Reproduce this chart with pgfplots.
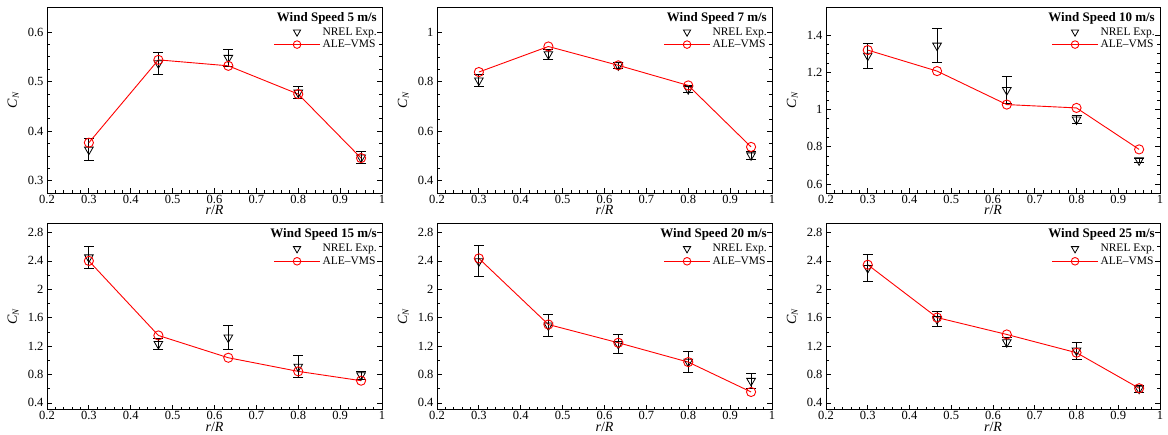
\documentclass[border=0pt]{standalone}
\usepackage{pgfplots}
\pgfplotsset{compat=1.18}
\usepackage{fontspec}
\setmainfont{Liberation Serif}

\pgfplotsset{
  panel/.style={
    width=335pt, height=186pt, scale only axis,
    anchor=south west,
    xmin=0.2, xmax=1,
    xtick={0.2,0.3,0.4,0.5,0.6,0.7,0.8,0.9,1},
    minor x tick num=4,
    xtick pos=bottom, ytick pos=both,
    tick align=inside,
    major tick length=5pt, minor tick length=3pt,
    axis line style={line width=1pt},
    every tick/.style={black, line width=0.8pt},
    /pgf/number format/assume math mode=true,
    tick label style={font=\fontsize{12.5}{14}\selectfont},
    xticklabel style={yshift=2pt},
    every axis x label/.style={at={(axis description cs:0.5,0)}, anchor=base, yshift=-21.5pt},
    every axis y label/.style={at={(axis description cs:-0.101,0.5)}, anchor=center, rotate=90},
    xlabel={\fontsize{14}{16}\selectfont\textit{r}/\textit{R}},
    ylabel={\fontsize{14}{16}\selectfont\textit{C}\raisebox{-0.25ex}{\fontsize{9}{10}\selectfont\textit{N}}},
    legend image code/.code={\draw[mark repeat=2,mark phase=2,#1] plot coordinates {(0pt,0pt) (23pt,0pt) (46pt,0pt)};},
    legend style={draw=none, fill=none, at={(1,1)}, anchor=north east, xshift=0pt, yshift=-16pt,
      font=\fontsize{11.5}{12.5}\selectfont, legend cell align=left, row sep=-0.5pt,
      nodes={inner sep=2pt}},
  },
  nrel/.style={only marks, black, mark=triangle, mark size=5pt, mark options={rotate=180, line width=0.8pt, fill=none},
    error bars/y dir=both, error bars/y explicit,
    error bars/error bar style={line width=0.9pt, black},
    error bars/error mark options={rotate=90, black, mark size=5pt, line width=0.9pt}},
  ale/.style={red, line width=0.9pt, mark=o, mark size=4.6pt, mark options={line width=0.9pt}},
}
\newcommand{\paneltitle}[1]{\node[anchor=north east, inner sep=0pt, font=\fontsize{13}{15}\selectfont\bfseries] at (rel axis cs:0.985,0.975) {#1};}
\newcommand{\legendimgs}{%
  \addlegendimage{only marks, black, mark=triangle, mark size=4.2pt, mark options={rotate=180, line width=0.8pt}}
  \addlegendentry{NREL Exp.}
  \addlegendimage{red, line width=0.9pt, mark=o, mark size=3.8pt, mark options={line width=0.9pt}}
  \addlegendentry{ALE--VMS}}

\begin{document}
\begin{tikzpicture}
\useasboundingbox (0pt,0pt) rectangle (1168pt,-435pt);

% ---- 5 m/s
\begin{axis}[panel, at={(47pt,-193.3pt)}, ymin=0.275, ymax=0.65,
  ytick={0.3,0.4,0.5,0.6}, minor y tick num=3]
\legendimgs
\addplot[forget plot, nrel] table[x=x, y=y, y error=e] {
x y e
0.30 0.363 0.022
0.466 0.537 0.022
0.633 0.548 0.017
0.80 0.478 0.012
0.95 0.347 0.012
};
\addplot[forget plot, ale] table[x=x, y=y] {
x y
0.30 0.377
0.466 0.544
0.633 0.532
0.80 0.475
0.95 0.346
};
\paneltitle{Wind Speed 5 m/s}
\end{axis}

% ---- 7 m/s
\begin{axis}[panel, at={(437pt,-193.3pt)}, ymin=0.35, ymax=1.1,
  ytick={0.4,0.6,0.8,1}, minor y tick num=3]
\legendimgs
\addplot[forget plot, nrel] table[x=x, y=y, y error=e] {
x y e
0.30 0.805 0.023
0.466 0.911 0.020
0.633 0.866 0.012
0.80 0.770 0.015
0.95 0.503 0.015
};
\addplot[forget plot, ale] table[x=x, y=y] {
x y
0.30 0.839
0.466 0.942
0.633 0.866
0.80 0.785
0.95 0.537
};
\paneltitle{Wind Speed 7 m/s}
\end{axis}

% ---- 10 m/s
\begin{axis}[panel, at={(826pt,-193.3pt)}, width=334pt, ymin=0.55, ymax=1.55,
  ytick={0.6,0.8,1,1.2,1.4}, minor y tick num=3]
\legendimgs
\addplot[forget plot, nrel] table[x=x, y=y, y error=e] {
x y e
0.30 1.290 0.068
0.466 1.344 0.092
0.633 1.105 0.072
0.80 0.947 0.020
0.95 0.727 0.012
};
\addplot[forget plot, ale] table[x=x, y=y] {
x y
0.30 1.320
0.466 1.207
0.633 1.027
0.80 1.009
0.95 0.786
};
\paneltitle{Wind Speed 10 m/s}
\end{axis}

% ---- 15 m/s
\begin{axis}[panel, at={(47pt,-410pt)}, ymin=0.3, ymax=2.92,
  ytick={0.4,0.8,1.2,1.6,2,2.4,2.8}, minor y tick num=1]
\legendimgs
\addplot[forget plot, nrel] table[x=x, y=y, y error=e] {
x y e
0.30 2.450 0.160
0.466 1.230 0.075
0.633 1.320 0.170
0.80 0.910 0.155
0.95 0.790 0.055
};
\addplot[forget plot, ale] table[x=x, y=y] {
x y
0.30 2.400
0.466 1.350
0.633 1.036
0.80 0.844
0.95 0.713
};
\paneltitle{Wind Speed 15 m/s}
\end{axis}

% ---- 20 m/s
\begin{axis}[panel, at={(437pt,-410pt)}, ymin=0.3, ymax=2.92,
  ytick={0.4,0.8,1.2,1.6,2,2.4,2.8}, minor y tick num=1]
\legendimgs
\addplot[forget plot, nrel] table[x=x, y=y, y error=e] {
x y e
0.30 2.395 0.220
0.466 1.490 0.150
0.633 1.230 0.140
0.80 0.980 0.150
0.95 0.710 0.100
};
\addplot[forget plot, ale] table[x=x, y=y] {
x y
0.30 2.435
0.466 1.504
0.633 1.247
0.80 0.975
0.95 0.554
};
\paneltitle{Wind Speed 20 m/s}
\end{axis}

% ---- 25 m/s
\begin{axis}[panel, at={(826pt,-410pt)}, width=334pt, ymin=0.3, ymax=2.92,
  ytick={0.4,0.8,1.2,1.6,2,2.4,2.8}, minor y tick num=1]
\legendimgs
\addplot[forget plot, nrel] table[x=x, y=y, y error=e] {
x y e
0.30 2.300 0.190
0.466 1.580 0.110
0.633 1.255 0.060
0.80 1.137 0.120
0.95 0.600 0.047
};
\addplot[forget plot, ale] table[x=x, y=y] {
x y
0.30 2.346
0.466 1.602
0.633 1.364
0.80 1.107
0.95 0.606
};
\paneltitle{Wind Speed 25 m/s}
\end{axis}

\end{tikzpicture}
\end{document}
